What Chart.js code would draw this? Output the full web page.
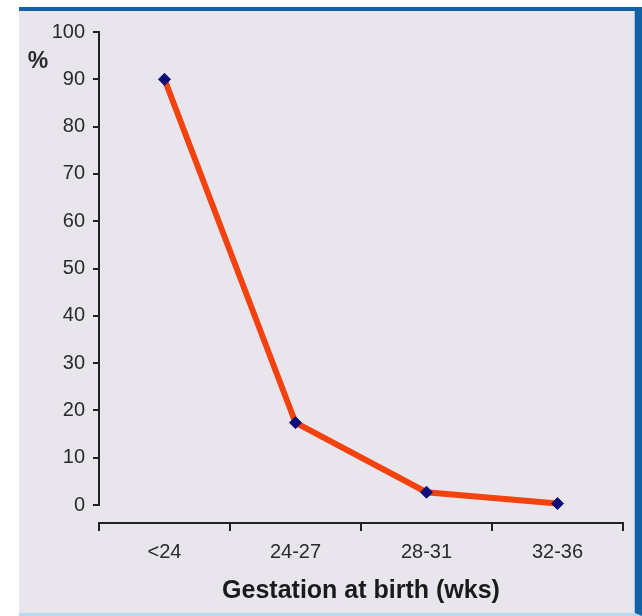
<!DOCTYPE html>
<html>
<head>
<meta charset="utf-8">
<script src="https://cdn.jsdelivr.net/npm/chart.js@4.4.1/dist/chart.umd.min.js"></script>
<style>
  html, body { margin: 0; padding: 0; background: #ffffff; }
  body { width: 642px; height: 616px; position: relative; overflow: hidden; }
  #pannello {
    position: absolute; left: 19px; top: 7px; width: 616px; height: 602px;
    background: #e9e5ec;
    border-top: 4px solid #1462a6;
    border-right: 7px solid #1462a6;
    border-bottom: 3px solid #b9d9f1;
    box-shadow: inset -1px 0 0 #9cc6e8;
  }
  #grafico { position: absolute; left: 0; top: 0; }
</style>
</head>
<body>
<div id="pannello">
  <canvas id="grafico" width="616" height="602"></canvas>
</div>
<script>
// dati
var etichette_gestazione = ['<24', '24-27', '28-31', '32-36'];
var valori_percentuale = [90, 17.4, 2.7, 0.3];
var tick_y = [0, 10, 20, 30, 40, 50, 60, 70, 80, 90, 100];

var font_testo = 'Arial, "Liberation Sans", sans-serif';

// disegno la linea verticale dell'asse y solo tra 0 e 100
var asse_y_linea = {
  id: 'asse_y_linea',
  afterDraw: function(chart) {
    var ctx = chart.ctx;
    var y = chart.scales.y;
    var x = chart.chartArea.left;
    ctx.save();
    ctx.strokeStyle = '#222222';
    ctx.lineWidth = 2;
    ctx.beginPath();
    ctx.moveTo(x, y.getPixelForValue(tick_y[tick_y.length - 1]) - 1);
    ctx.lineTo(x, y.getPixelForValue(tick_y[0]) + 1);
    ctx.stroke();
    // il simbolo % in alto a sinistra
    ctx.fillStyle = '#2a2a2a';
    ctx.font = 'bold 23px ' + font_testo;
    ctx.textAlign = 'center';
    ctx.textBaseline = 'middle';
    ctx.fillText('%', 19, y.getPixelForValue(94) + 1);
    ctx.restore();
  }
};

var grafico = new Chart(document.getElementById('grafico'), {
  type: 'line',
  data: {
    labels: etichette_gestazione,
    datasets: [{
      data: valori_percentuale,
      borderColor: '#f4420f',
      borderWidth: 6,
      tension: 0,
      pointStyle: 'rectRot',
      pointRadius: 6,
      pointBackgroundColor: '#0b0b7a',
      pointBorderColor: '#0b0b7a',
      pointBorderWidth: 1
    }]
  },
  options: {
    responsive: false,
    animation: false,
    events: [],
    layout: { padding: { left: 0, right: 12, top: 21, bottom: 0 } },
    plugins: {
      legend: { display: false },
      tooltip: { enabled: false }
    },
    scales: {
      x: {
        offset: true,
        afterFit: function(scale) { scale.height = 90; },
        grid: {
          offset: true,
          drawOnChartArea: false,
          drawTicks: true,
          tickLength: 8,
          color: '#222222',
          lineWidth: 2
        },
        border: { display: true, color: '#222222', width: 2 },
        ticks: {
          color: '#2a2a2a',
          padding: 9,
          font: { family: font_testo, size: 20 }
        },
        title: {
          display: true,
          text: 'Gestation at birth (wks)',
          color: '#1a1a1a',
          padding: { top: 0, bottom: 7 },
          font: { family: font_testo, size: 25, weight: 'bold' }
        }
      },
      y: {
        min: -3.8,
        max: tick_y[tick_y.length - 1],
        afterFit: function(scale) { scale.width = 80; },
        afterBuildTicks: function(scale) {
          scale.ticks = tick_y.map(function(v) { return { value: v }; });
        },
        grid: {
          drawOnChartArea: false,
          drawTicks: true,
          tickLength: 6,
          color: '#222222',
          lineWidth: 2
        },
        border: { display: false },
        ticks: {
          color: '#2a2a2a',
          padding: 8,
          font: { family: font_testo, size: 20 }
        }
      }
    }
  },
  plugins: [asse_y_linea]
});
</script>
</body>
</html>
